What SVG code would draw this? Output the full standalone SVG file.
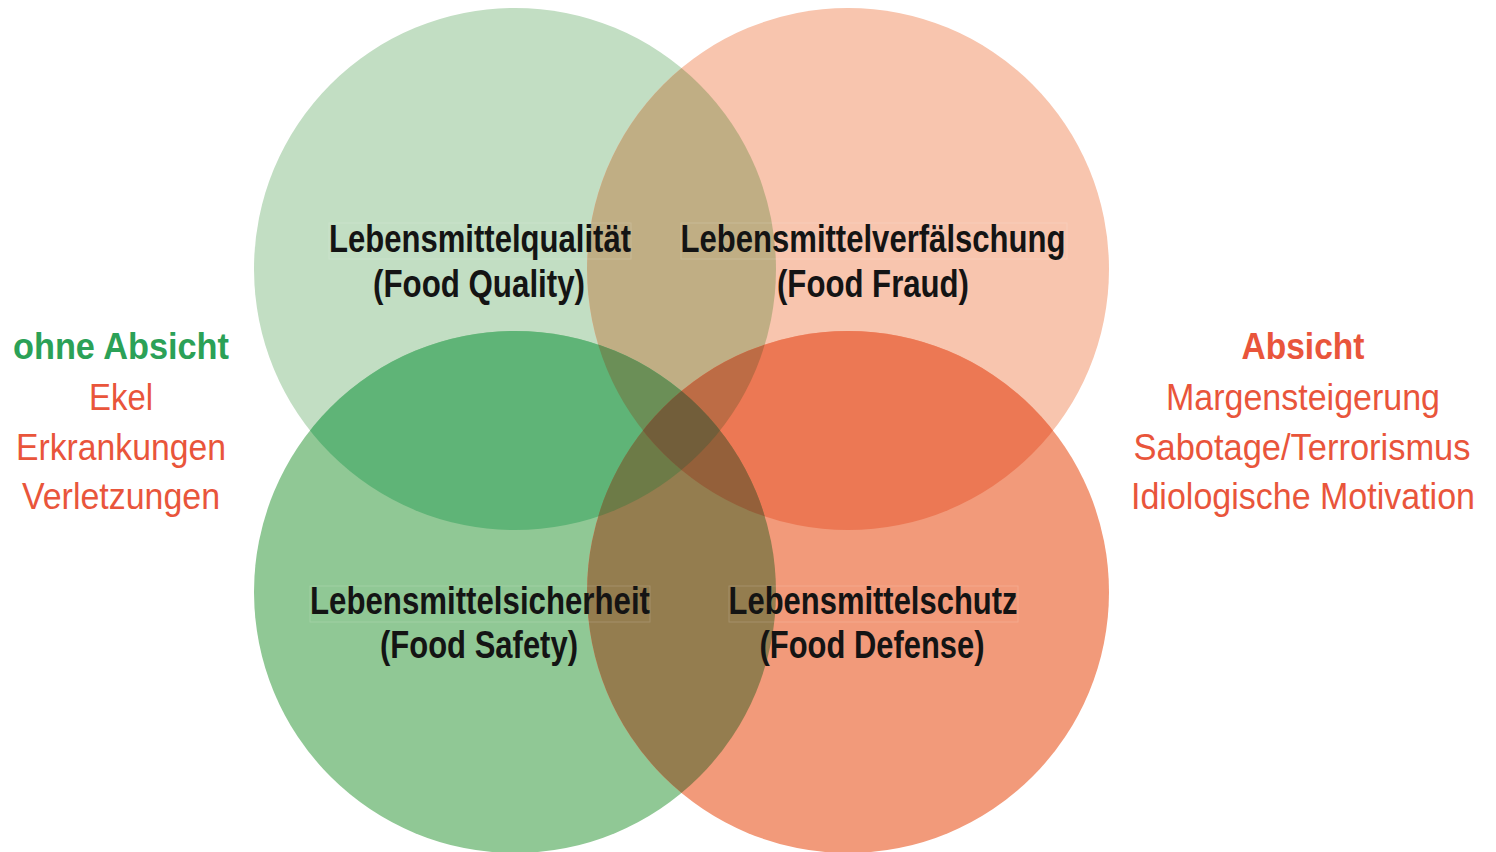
<svg xmlns="http://www.w3.org/2000/svg" width="1496" height="852" viewBox="0 0 1496 852">
<style>
.lbl{font-family:"Liberation Sans Narrow","Liberation Sans",Arial,sans-serif;font-weight:bold;font-size:38px;fill:#141414;text-anchor:middle}
.side{font-family:"Liberation Sans Narrow","Liberation Sans",Arial,sans-serif;font-size:36px;text-anchor:middle}
.b{font-weight:bold}
.g{fill:#2ba157}
.r{fill:#e9553b}
.hl{fill:none;stroke:#ffffff;stroke-opacity:0.15;stroke-width:1}
</style>
<defs>
  <circle id="sTL" cx="515" cy="269" r="261"/>
  <circle id="sTR" cx="848" cy="269" r="261"/>
  <circle id="sBL" cx="515" cy="592" r="261"/>
  <circle id="sBR" cx="848" cy="592" r="261"/>
  <clipPath id="kTL"><circle cx="515" cy="269" r="261"/></clipPath>
  <clipPath id="kTR"><circle cx="848" cy="269" r="261"/></clipPath>
  <clipPath id="kBL"><circle cx="515" cy="592" r="261"/></clipPath>
  <clipPath id="kBR"><circle cx="848" cy="592" r="261"/></clipPath>
</defs>
<rect width="1496" height="852" fill="#ffffff"/>
<g id="circles">
  <use id="quality" href="#sTL" fill="#c2dec3"/>
  <use id="fraud" href="#sTR" fill="#f8c5ae"/>
  <use id="safety" href="#sBL" fill="#90c895"/>
  <use id="defense" href="#sBR" fill="#f29a7a"/>
  <!-- pairwise overlaps -->
  <use href="#sTR" fill="#c0ae84" clip-path="url(#kTL)"/>
  <use href="#sBL" fill="#5fb477" clip-path="url(#kTL)"/>
  <use href="#sBR" fill="#ec7854" clip-path="url(#kTR)"/>
  <use href="#sBR" fill="#947d4f" clip-path="url(#kBL)"/>
  <!-- triple overlaps -->
  <g clip-path="url(#kTL)"><use href="#sBL" fill="#6b8f57" clip-path="url(#kTR)"/></g>
  <g clip-path="url(#kTL)"><use href="#sBR" fill="#bd6c45" clip-path="url(#kTR)"/></g>
  <g clip-path="url(#kTL)"><use href="#sBR" fill="#6d7b47" clip-path="url(#kBL)"/></g>
  <g clip-path="url(#kTR)"><use href="#sBR" fill="#94603a" clip-path="url(#kBL)"/></g>
  <!-- centre -->
  <g clip-path="url(#kTL)"><g clip-path="url(#kTR)"><use href="#sBL" fill="#725e3a" clip-path="url(#kBR)"/></g></g>
</g>
<g id="node-quality">
  <rect class="hl" x="329" y="223" width="302" height="36"/>
  <text class="lbl" x="480" y="252" textLength="302" lengthAdjust="spacingAndGlyphs">Lebensmittelqualität</text>
  <text class="lbl" x="479" y="297" textLength="212" lengthAdjust="spacingAndGlyphs">(Food Quality)</text>
</g>
<g id="node-fraud">
  <rect class="hl" x="681" y="223" width="386" height="36"/>
  <text class="lbl" x="873" y="252" textLength="385" lengthAdjust="spacingAndGlyphs">Lebensmittelverfälschung</text>
  <text class="lbl" x="873" y="297" textLength="192" lengthAdjust="spacingAndGlyphs">(Food Fraud)</text>
</g>
<g id="node-safety">
  <rect class="hl" x="310" y="586" width="340" height="36"/>
  <text class="lbl" x="480" y="614" textLength="340" lengthAdjust="spacingAndGlyphs">Lebensmittelsicherheit</text>
  <text class="lbl" x="479" y="658" textLength="198" lengthAdjust="spacingAndGlyphs">(Food Safety)</text>
</g>
<g id="node-defense">
  <rect class="hl" x="729" y="586" width="289" height="36"/>
  <text class="lbl" x="873" y="614" textLength="289" lengthAdjust="spacingAndGlyphs">Lebensmittelschutz</text>
  <text class="lbl" x="872" y="658" textLength="225" lengthAdjust="spacingAndGlyphs">(Food Defense)</text>
</g>
<g id="node-ohne-absicht">
  <text class="side b g" x="121" y="359" textLength="216" lengthAdjust="spacingAndGlyphs">ohne Absicht</text>
  <text class="side r" x="121" y="410" textLength="64" lengthAdjust="spacingAndGlyphs">Ekel</text>
  <text class="side r" x="121" y="460" textLength="210" lengthAdjust="spacingAndGlyphs">Erkrankungen</text>
  <text class="side r" x="121" y="509" textLength="198" lengthAdjust="spacingAndGlyphs">Verletzungen</text>
</g>
<g id="node-absicht">
  <text class="side b r" x="1303" y="359" textLength="123" lengthAdjust="spacingAndGlyphs">Absicht</text>
  <text class="side r" x="1303" y="410" textLength="274" lengthAdjust="spacingAndGlyphs">Margensteigerung</text>
  <text class="side r" x="1302" y="460" textLength="337" lengthAdjust="spacingAndGlyphs">Sabotage/Terrorismus</text>
  <text class="side r" x="1303" y="509" textLength="344" lengthAdjust="spacingAndGlyphs">Idiologische Motivation</text>
</g>
<g id="connectors"></g>
</svg>
